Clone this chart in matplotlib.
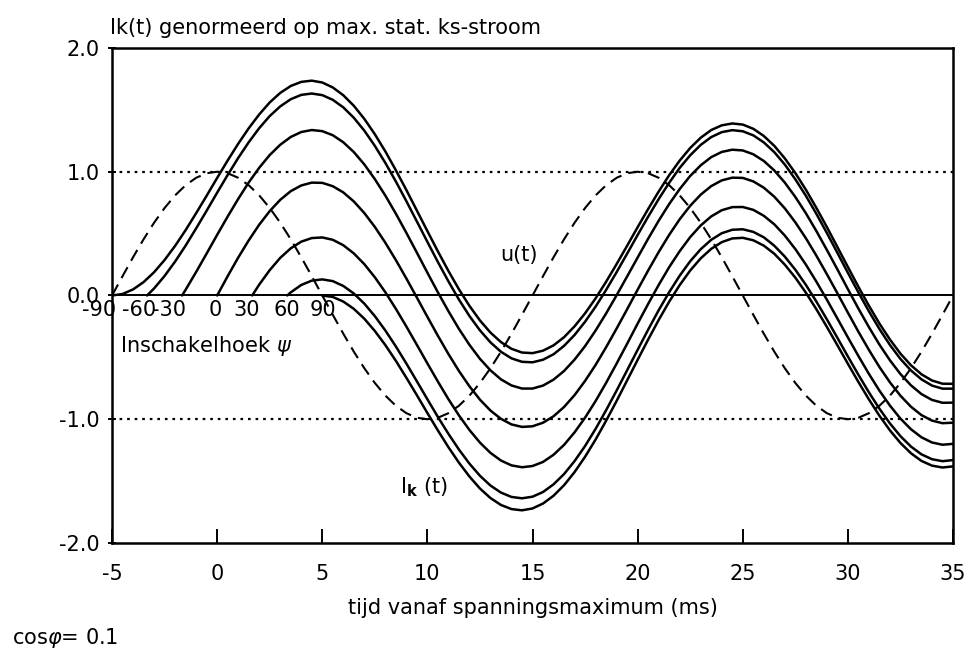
import numpy as np
import matplotlib
matplotlib.use("Agg")
import matplotlib.pyplot as plt

plt.rcParams['font.family'] = ['DejaVu Sans']
plt.rcParams['mathtext.fontset'] = 'dejavusans'

# ---------------- data ----------------
t_grid = np.arange(-5, 35.001, 0.5)          # time samples (ms)

psi_labels = ["-90", "-60", "-30", "0", "30", "60", "90"]   # switching angle (deg)
t_start = [-5.0, -3.333, -1.667, 0.0, 1.667, 3.333, 5.0]     # switching instant (ms)

u_t = [0.000, 0.156, 0.309, 0.454, 0.588, 0.707, 0.809, 0.891, 0.951, 0.988,
       1.000, 0.988, 0.951, 0.891, 0.809, 0.707, 0.588, 0.454, 0.309, 0.156,
       0.000, -0.156, -0.309, -0.454, -0.588, -0.707, -0.809, -0.891, -0.951, -0.988,
       -1.000, -0.988, -0.951, -0.891, -0.809, -0.707, -0.588, -0.454, -0.309, -0.156,
       0.000, 0.156, 0.309, 0.454, 0.588, 0.707, 0.809, 0.891, 0.951, 0.988,
       1.000, 0.988, 0.951, 0.891, 0.809, 0.707, 0.588, 0.454, 0.309, 0.156,
       0.000, -0.156, -0.309, -0.454, -0.588, -0.707, -0.809, -0.891, -0.951, -0.988,
       -1.000, -0.988, -0.951, -0.891, -0.809, -0.707, -0.588, -0.454, -0.309, -0.156,
       0.000]

ik_m90 = [0.000, 0.012, 0.049, 0.108, 0.188, 0.287, 0.401, 0.528, 0.665, 0.806,
          0.950, 1.091, 1.226, 1.351, 1.463, 1.560, 1.637, 1.693, 1.726, 1.736,
          1.721, 1.681, 1.618, 1.533, 1.427, 1.303, 1.164, 1.012, 0.852, 0.686,
          0.520, 0.356, 0.198, 0.050, -0.084, -0.202, -0.300, -0.377, -0.431, -0.461,
          -0.466, -0.446, -0.403, -0.337, -0.249, -0.144, -0.023, 0.111, 0.254, 0.402,
          0.552, 0.699, 0.840, 0.972, 1.090, 1.192, 1.275, 1.337, 1.375, 1.390,
          1.381, 1.347, 1.289, 1.209, 1.108, 0.989, 0.855, 0.708, 0.553, 0.392,
          0.230, 0.070, -0.083, -0.227, -0.356, -0.470, -0.564, -0.637, -0.687, -0.713,
          -0.714]

ik_m60 = [0.000,
          0.057, 0.158, 0.274, 0.403, 0.542, 0.685, 0.831, 0.974, 1.111, 1.238,
          1.352, 1.450, 1.528, 1.586, 1.621, 1.632, 1.619, 1.581, 1.520, 1.436,
          1.332, 1.209, 1.071, 0.921, 0.762, 0.598, 0.433, 0.270, 0.114, -0.033,
          -0.166, -0.282, -0.379, -0.455, -0.508, -0.536, -0.540, -0.519, -0.475, -0.407,
          -0.319, -0.212, -0.090, 0.045, 0.189, 0.338, 0.489, 0.637, 0.779, 0.911,
          1.031, 1.133, 1.217, 1.280, 1.320, 1.336, 1.327, 1.294, 1.237, 1.158,
          1.058, 0.939, 0.806, 0.660, 0.505, 0.345, 0.183, 0.025, -0.128, -0.271,
          -0.400, -0.513, -0.606, -0.678, -0.728, -0.753, -0.753]

ik_m30 = [0.000,
          0.046, 0.190, 0.339, 0.490, 0.638, 0.780, 0.913, 1.032, 1.135, 1.218,
          1.281, 1.321, 1.337, 1.328, 1.295, 1.238, 1.159, 1.059, 0.940, 0.807,
          0.661, 0.506, 0.346, 0.184, 0.025, -0.127, -0.270, -0.399, -0.512, -0.605,
          -0.678, -0.727, -0.752, -0.752, -0.728, -0.680, -0.610, -0.518, -0.409, -0.283,
          -0.145, 0.002, 0.154, 0.307, 0.459, 0.604, 0.739, 0.860, 0.966, 1.052,
          1.118, 1.160, 1.178, 1.172, 1.141, 1.087, 1.010, 0.912, 0.796, 0.665,
          0.521, 0.368, 0.211, 0.051, -0.106, -0.256, -0.397, -0.524, -0.635, -0.726,
          -0.797, -0.844, -0.867, -0.866]

ik_0 = [0.000, 0.156, 0.306, 0.445, 0.572, 0.682, 0.773, 0.843, 0.889, 0.912,
        0.910, 0.883, 0.833, 0.760, 0.666, 0.554, 0.426, 0.286, 0.137, -0.017,
        -0.173, -0.326, -0.473, -0.610, -0.734, -0.842, -0.930, -0.997, -1.042, -1.062,
        -1.057, -1.028, -0.976, -0.901, -0.805, -0.690, -0.561, -0.418, -0.267, -0.111,
        0.047, 0.202, 0.351, 0.490, 0.616, 0.725, 0.815, 0.884, 0.930, 0.952,
        0.950, 0.922, 0.871, 0.798, 0.704, 0.591, 0.463, 0.322, 0.172, 0.018,
        -0.139, -0.293, -0.440, -0.578, -0.702, -0.810, -0.899, -0.967, -1.011, -1.032,
        -1.028]

ik_30 = [0.000,
         0.088, 0.205, 0.304, 0.381, 0.435, 0.464, 0.469, 0.450, 0.406, 0.340,
         0.253, 0.147, 0.026, -0.108, -0.251, -0.399, -0.549, -0.696, -0.838, -0.969,
         -1.087, -1.189, -1.272, -1.334, -1.373, -1.388, -1.378, -1.345, -1.287, -1.207,
         -1.106, -0.987, -0.853, -0.706, -0.550, -0.390, -0.227, -0.068, 0.085, 0.229,
         0.358, 0.472, 0.566, 0.639, 0.689, 0.714, 0.715, 0.692, 0.644, 0.575,
         0.484, 0.375, 0.250, 0.112, -0.034, -0.186, -0.339, -0.489, -0.634, -0.769,
         -0.890, -0.995, -1.081, -1.146, -1.188, -1.206, -1.199]

ik_60 = [0.000,
         0.025, 0.085, 0.120, 0.130, 0.116, 0.077, 0.016, -0.066, -0.167, -0.283,
         -0.412, -0.550, -0.694, -0.839, -0.982, -1.118, -1.245, -1.359, -1.457, -1.536,
         -1.593, -1.628, -1.639, -1.626, -1.588, -1.526, -1.443, -1.338, -1.216, -1.078,
         -0.927, -0.768, -0.604, -0.439, -0.276, -0.119, 0.027, 0.160, 0.277, 0.374,
         0.450, 0.503, 0.531, 0.535, 0.514, 0.470, 0.402, 0.314, 0.208, 0.086,
         -0.049, -0.193, -0.342, -0.493, -0.641, -0.783, -0.915, -1.034, -1.137, -1.221,
         -1.284, -1.323, -1.339, -1.330]

ik_90 = [0.000, -0.012, -0.049, -0.108, -0.188, -0.287, -0.401, -0.528, -0.665, -0.806,
         -0.950, -1.091, -1.226, -1.351, -1.463, -1.560, -1.637, -1.693, -1.726, -1.736,
         -1.721, -1.681, -1.618, -1.533, -1.427, -1.303, -1.164, -1.012, -0.852, -0.686,
         -0.520, -0.356, -0.198, -0.050, 0.084, 0.202, 0.300, 0.377, 0.431, 0.461,
         0.466, 0.446, 0.403, 0.337, 0.249, 0.144, 0.023, -0.111, -0.254, -0.402,
         -0.552, -0.699, -0.840, -0.972, -1.090, -1.192, -1.275, -1.337, -1.375, -1.390,
         -1.381]

currents = [ik_m90, ik_m60, ik_m30, ik_0, ik_30, ik_60, ik_90]

x_ticks = [-5, 0, 5, 10, 15, 20, 25, 30, 35]
y_ticks = [-2.0, -1.0, 0.0, 1.0, 2.0]

FS = 15

# ---------------- figure ----------------
fig = plt.figure(figsize=(9.7, 6.6), dpi=100)
ax = fig.add_axes([0.1155, 0.1773, 0.867, 0.750])

# reference lines
ax.axhline(0, color='black', lw=1.4, zorder=2)
for yv in (1.0, -1.0):
    ax.axhline(yv, color='black', lw=1.6, linestyle=(0, (1.2, 2.2)), zorder=2)

# voltage
ax.plot(t_grid, u_t, color='black', lw=1.5, linestyle=(0, (6.0, 3.5)), zorder=3)

# short-circuit currents
for t0, y in zip(t_start, currents):
    xs = np.concatenate([[t0], t_grid[t_grid > t0 + 1e-6]])
    ax.plot(xs, y, color='black', lw=1.8, zorder=4, solid_capstyle='round')

ax.set_xlim(-5, 35)
ax.set_ylim(-2, 2)
ax.set_xticks(x_ticks)
ax.set_xticklabels([str(v) for v in x_ticks])
ax.set_yticks(y_ticks)
ax.set_yticklabels([f"{v:.1f}" for v in y_ticks])
ax.tick_params(axis='x', direction='in', length=10, width=1.4, pad=15, labelsize=FS)
ax.tick_params(axis='y', direction='inout', length=6, width=1.4, pad=6, labelsize=FS)
for sp in ax.spines.values():
    sp.set_linewidth(1.8)

# switching angle labels
label_dx = [-0.6, -0.4, -0.6, -0.1, -0.25, 0.0, 0.05]
for t0, lab, dx in zip(t_start, psi_labels, label_dx):
    ax.text(t0 + dx, -0.12, lab, ha='center', va='center', fontsize=FS)

ax.text(-4.62, -0.41, r'Inschakelhoek $\psi$', ha='left', va='center', fontsize=FS)
ax.text(13.45, 0.33, 'u(t)', ha='left', va='center', fontsize=FS)
ax.text(8.7, -1.55, r'$\mathregular{I_{\mathbf{k}}}$ (t)', ha='left', va='center', fontsize=FS)

fig.text(0.1135, 0.958, 'Ik(t) genormeerd op max. stat. ks-stroom', ha='left', va='center', fontsize=FS)
fig.text(0.549, 0.079, 'tijd vanaf spanningsmaximum (ms)', ha='center', va='center', fontsize=FS)
fig.text(0.012, 0.015, r'cos$\varphi$= 0.1', ha='left', va='bottom', fontsize=FS)

fig.savefig('out.png', dpi=100)
